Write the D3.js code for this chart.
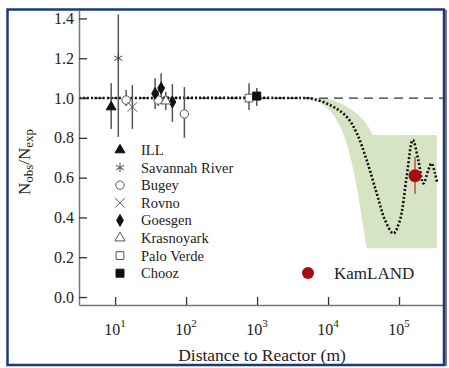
<!DOCTYPE html>
<html>
<head>
<meta charset="utf-8">
<script src="https://cdn.jsdelivr.net/npm/d3@7"></script>
<style>
  body { margin: 0; background: #fff; }
</style>
</head>
<body>
<div id="chart"></div>
<script>
// reactor experiments: distance (m), ratio, error bar low / high
var expNames = ["ILL", "Savannah River", "Bugey", "Rovno", "Goesgen", "Krasnoyark", "Palo Verde", "Chooz"];
var expDist  = [8.8, 11.1, 14.3, 40.4, 94.6, 17.5, 36.6, 44.5, 64.1, 51.8, 770, 990];
var expRatio = [0.955, 1.2, 0.99, 0.99, 0.92, 0.955, 1.023, 1.05, 0.98, 0.985, 1.0, 1.01];
var expLow   = [0.845, 0.805, 0.96, 0.96, 0.80, 0.845, 0.945, 0.985, 0.88, 0.94, 0.94, 0.96];
var expHigh  = [1.075, 1.42, 1.04, 1.04, 1.055, 1.065, 1.10, 1.125, 1.07, 1.03, 1.075, 1.05];
var expIndex = [0, 1, 2, 2, 2, 3, 4, 4, 4, 5, 6, 7];

// KamLAND
var kamDist = 168000, kamRatio = 0.61, kamLow = 0.518, kamHigh = 0.705;

// dotted oscillation curve
var curveDist  = [3.1, 3500, 5600, 10700, 18300, 25400, 35000, 48500, 63500, 83000, 103000, 128000, 156000, 187000, 220000, 259000, 288000, 321000, 346000];
var curveRatio = [1.0, 1.0, 0.998, 0.965, 0.906, 0.823, 0.688, 0.521, 0.387, 0.32, 0.387, 0.605, 0.789, 0.688, 0.571, 0.638, 0.672, 0.622, 0.571];

// green allowed band
var bandUpDist  = [4040, 7710, 12560, 18320, 28250, 36980, 43450, 339600];
var bandUpVal   = [1.0, 1.0, 0.985, 0.956, 0.906, 0.856, 0.814, 0.814];
var bandLowDist = [4040, 5570, 8590, 13270, 18320, 25350, 31410, 35810, 339600];
var bandLowVal  = [1.0, 0.998, 0.965, 0.889, 0.772, 0.554, 0.353, 0.245, 0.245];

var yTicks = [0, 0.2, 0.4, 0.6, 0.8, 1.0, 1.2, 1.4];
var xTicks = [1e1, 1e2, 1e3, 1e4, 1e5];

var svgWidth = 449, svgHeight = 368;
var serif = "'Liberation Serif', 'Times New Roman', 'DejaVu Serif', serif";

var svg = d3.select("#chart").append("svg")
  .attr("width", svgWidth)
  .attr("height", svgHeight)
  .style("font-family", serif);

var x = d3.scaleLog().domain([3.1, 430000]).range([79, 444]);
var y = d3.scaleLinear().domain([-0.04, 1.44]).range([305, 10.5]);

var symbols = [d3.symbolTriangle, d3.symbolAsterisk, d3.symbolCircle, d3.symbolX,
               d3.symbolDiamond, d3.symbolTriangle, d3.symbolSquare, d3.symbolSquare];
var symSize = [42, 60, 55, 60, 40, 45, 60, 64];
var symFill = ["#111", "none", "#fff", "none", "#111", "#fff", "#fff", "#111"];
var symStroke = ["#111", "#444", "#555", "#555", "#111", "#555", "#555", "#111"];

// band
var lineGen = d3.line().x(d => x(d[0])).y(d => y(d[1])).curve(d3.curveMonotoneX);
var up = bandUpDist.map((d, i) => [d, bandUpVal[i]]);
var low = bandLowDist.map((d, i) => [d, bandLowVal[i]]).reverse();
var bandPath = lineGen(up) + "L" + x(bandLowDist[bandLowDist.length - 1]) + "," + y(bandLowVal[bandLowVal.length - 1])
  + lineGen(low).replace(/^M/, "L") + "Z";
svg.append("path").attr("d", bandPath).attr("fill", "#d6e4c4");

// reference dashed line
svg.append("line")
  .attr("x1", x(3.1)).attr("x2", 443)
  .attr("y1", y(1)).attr("y2", y(1))
  .attr("stroke", "#333").attr("stroke-width", 1.3)
  .attr("stroke-dasharray", "9,6");

// dotted curve
svg.append("path")
  .attr("d", d3.line().x(d => x(d[0])).y(d => y(d[1])).curve(d3.curveCatmullRom)(curveDist.map((d, i) => [d, curveRatio[i]])))
  .attr("fill", "none").attr("stroke", "#111").attr("stroke-width", 2.6)
  .attr("stroke-dasharray", "2,2");

// axes
var xAxis = svg.append("g")
  .attr("transform", "translate(0,305)")
  .call(d3.axisBottom(x).tickValues(xTicks).tickSize(-8).tickSizeOuter(0).tickFormat(""));
var yAxis = svg.append("g")
  .attr("transform", "translate(79,0)")
  .call(d3.axisLeft(y).tickValues(yTicks).tickSize(-8).tickSizeOuter(0).tickPadding(5).tickFormat(d3.format(".1f")));
xAxis.select(".domain").attr("stroke", "#777").attr("stroke-width", 1.5);
yAxis.select(".domain").attr("stroke", "#777").attr("stroke-width", 1.5);
svg.selectAll(".tick line").attr("stroke", "#333").attr("stroke-width", 1.3);
yAxis.attr("font-family", serif).attr("font-size", 16);
yAxis.selectAll(".tick text").attr("fill", "#222");

// x tick labels with exponents
xTicks.forEach(function (t) {
  var lbl = svg.append("text")
    .attr("x", x(t)).attr("y", 335)
    .attr("text-anchor", "middle")
    .attr("font-family", serif)
    .attr("font-size", 16).attr("fill", "#222");
  lbl.append("tspan").text("10");
  lbl.append("tspan").attr("dy", -8).attr("font-size", 11).text(Math.round(Math.log10(t)));
});

// axis titles
svg.append("text")
  .attr("x", 262).attr("y", 361)
  .attr("text-anchor", "middle").attr("font-size", 17.5)
  .attr("font-family", serif).attr("fill", "#222")
  .text("Distance to Reactor (m)");

var yTitle = svg.append("text")
  .attr("transform", "translate(30,162) rotate(-90)")
  .attr("text-anchor", "middle").attr("font-size", 17)
  .attr("font-family", serif).attr("fill", "#222");
yTitle.append("tspan").text("N");
yTitle.append("tspan").attr("font-size", 13).attr("dy", 3).text("obs");
yTitle.append("tspan").attr("dy", -3).text("/N");
yTitle.append("tspan").attr("font-size", 13).attr("dy", 3).text("exp");

// error bars
svg.selectAll(".err")
  .data(expDist)
  .enter()
  .append("line")
  .attr("class", "err")
  .attr("x1", d => x(d)).attr("x2", d => x(d))
  .attr("y1", (d, i) => y(expLow[i])).attr("y2", (d, i) => y(expHigh[i]))
  .attr("stroke", "#555").attr("stroke-width", 1.5);

// data points
svg.selectAll(".pt")
  .data(expDist)
  .enter()
  .append("path")
  .attr("class", "pt")
  .attr("transform", (d, i) => `translate(${x(d)},${y(expRatio[i])})`)
  .attr("d", (d, i) => d3.symbol(symbols[expIndex[i]], symSize[expIndex[i]])())
  .attr("fill", (d, i) => symFill[expIndex[i]])
  .attr("stroke", (d, i) => symStroke[expIndex[i]])
  .attr("stroke-width", 1);

// KamLAND point
svg.append("line")
  .attr("x1", x(kamDist)).attr("x2", x(kamDist))
  .attr("y1", y(kamLow)).attr("y2", y(kamHigh))
  .attr("stroke", "#c0504d").attr("stroke-width", 1.5);
svg.append("circle")
  .attr("cx", x(kamDist)).attr("cy", y(kamRatio))
  .attr("r", 6.5).attr("fill", "#a50e0e");

// legend
var legend = svg.append("g");
expNames.forEach(function (name, i) {
  var ly = 150 + i * 17.6;
  legend.append("path")
    .attr("transform", `translate(120,${ly})`)
    .attr("d", d3.symbol(symbols[i], symSize[i])())
    .attr("fill", symFill[i]).attr("stroke", symStroke[i]).attr("stroke-width", 1);
  legend.append("text")
    .attr("x", 141).attr("y", ly).attr("dy", "0.35em")
    .attr("font-size", 14.5).attr("font-family", serif).attr("fill", "#222")
    .text(name);
});
legend.append("circle").attr("cx", 308).attr("cy", 273).attr("r", 6).attr("fill", "#a50e0e");
legend.append("text")
  .attr("x", 334).attr("y", 273).attr("dy", "0.35em")
  .attr("font-size", 17).attr("font-family", serif).attr("fill", "#222")
  .text("KamLAND");

// frame
svg.append("line").attr("x1", 446).attr("x2", 446).attr("y1", 10).attr("y2", 366)
  .attr("stroke", "#555").attr("stroke-width", 1.5);
svg.append("rect")
  .attr("x", 7.5).attr("y", 9.5).attr("width", 436.5).attr("height", 355.5)
  .attr("fill", "none").attr("stroke", "#1b3a7a").attr("stroke-width", 2.5);
</script>
</body>
</html>
